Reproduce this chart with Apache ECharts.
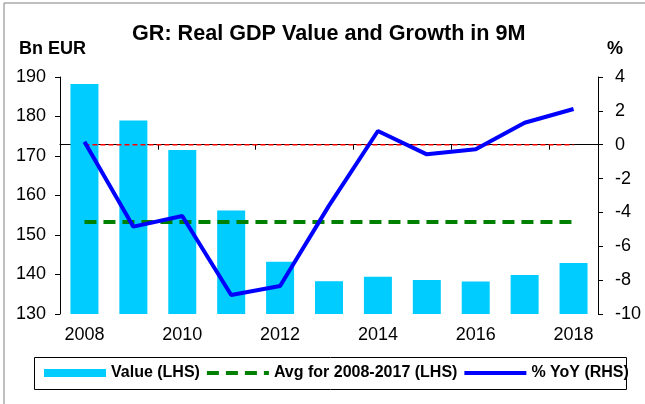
<!DOCTYPE html>
<html>
<head>
<meta charset="utf-8">
<script src="https://cdn.jsdelivr.net/npm/echarts@6/dist/echarts.min.js"></script>
<style>
  html, body { margin: 0; padding: 0; background: #fff; }
  #chart { width: 645px; height: 404px; }
</style>
</head>
<body>
<div id="chart"></div>
<script>
const years = ['2008', '2009', '2010', '2011', '2012', '2013', '2014', '2015', '2016', '2017', '2018']
const gdpValue = [188.2, 179.0, 171.5, 156.2, 143.2, 138.3, 139.4, 138.6, 138.2, 139.9, 142.9]
const yoyGrowth = [0.18, -4.84, -4.21, -8.88, -8.35, -3.6, 0.81, -0.57, -0.27, 1.3, 2.11]
const avgValue = [153.3, 153.3, 153.3, 153.3, 153.3, 153.3, 153.3, 153.3, 153.3, 153.3, 153.3]
const zeroLine = [0, 0, 0, 0, 0, 0, 0, 0, 0, 0, 0]

const font = "'Liberation Sans', Arial, sans-serif"

const chart = echarts.init(document.getElementById('chart'))

const option = {
  backgroundColor: '#ffffff',
  animation: false,
  textStyle: { fontFamily: font, color: '#000' },
  title: {
    text: 'GR: Real GDP Value and Growth in 9M',
    left: 132,
    top: 23,
    padding: 0,
    textStyle: { fontFamily: font, fontSize: 21.6, fontWeight: 'bold', color: '#000' }
  },
  graphic: [
    // outer frame (only top/left visible, like the original)
    { type: 'rect', shape: { x: 4, y: 3, width: 700, height: 500 }, style: { fill: 'none', stroke: '#808080', lineWidth: 1 }, silent: true },
    // legend box
    { type: 'rect', shape: { x: 34.5, y: 357.5, width: 592, height: 32 }, style: { fill: 'none', stroke: '#000', lineWidth: 1 }, silent: true },
    { type: 'text', left: 19, top: 40, style: { text: 'Bn EUR', font: 'bold 18px ' + font, fill: '#000' } },
    { type: 'text', left: 607, top: 40, style: { text: '%', font: 'bold 18px ' + font, fill: '#000' } }
  ],
  legend: {
    data: [
      { name: 'Value (LHS)', icon: 'rect' },
      { name: 'Avg for 2008-2017 (LHS)', itemStyle: { opacity: 0 }, lineStyle: { width: 4 } },
      { name: '% YoY (RHS)', itemStyle: { opacity: 0 }, lineStyle: { width: 4 } }
    ],
    left: 44,
    top: 365,
    padding: 0,
    itemWidth: 62,
    itemHeight: 8,
    itemGap: 5,
    textStyle: { fontFamily: font, fontSize: 16, fontWeight: 'bold', color: '#000' }
  },
  grid: {
    left: 60,
    right: 47,
    top: 77,
    bottom: 90
  },
  xAxis: {
    type: 'category',
    data: years,
    boundaryGap: true,
    axisLine: { lineStyle: { color: '#000', width: 1 } },
    axisTick: { show: true, length: 5, inside: false, lineStyle: { color: '#000' } },
    axisLabel: { color: '#000', fontSize: 18, fontFamily: font, interval: 1, margin: 12 },
    splitLine: { show: false }
  },
  yAxis: [
    {
      type: 'value',
      min: 130,
      max: 190,
      interval: 10,
      axisLine: { show: true, lineStyle: { color: '#000', width: 1 } },
      axisTick: { show: true, length: 5, lineStyle: { color: '#000' } },
      axisLabel: { color: '#000', fontSize: 18, fontFamily: font, margin: 14 },
      splitLine: { show: false }
    },
    {
      type: 'value',
      min: -10,
      max: 4,
      interval: 2,
      position: 'right',
      axisLine: { show: true, lineStyle: { color: '#000', width: 1 } },
      axisTick: { show: true, length: 5, lineStyle: { color: '#000' } },
      axisLabel: { color: '#000', fontSize: 18, fontFamily: font, margin: 17 },
      splitLine: { show: false }
    }
  ],
  series: [
    {
      name: 'Value (LHS)',
      type: 'bar',
      data: gdpValue,
      yAxisIndex: 0,
      barWidth: 28,
      itemStyle: { color: '#00CCFF' },
      z: 1
    },
    {
      name: 'zero',
      type: 'line',
      data: zeroLine,
      yAxisIndex: 1,
      symbol: 'none',
      lineStyle: { color: '#FF0000', width: 1.5, type: [5, 3] },
      z: 2
    },
    {
      name: 'Avg for 2008-2017 (LHS)',
      type: 'line',
      data: avgValue,
      yAxisIndex: 0,
      symbol: 'none',
      lineStyle: { color: '#008000', width: 4, type: [12, 7] },
      itemStyle: { color: '#008000' },
      z: 3
    },
    {
      name: '% YoY (RHS)',
      type: 'line',
      data: yoyGrowth,
      yAxisIndex: 1,
      symbol: 'none',
      lineStyle: { color: '#0000FF', width: 4 },
      itemStyle: { color: '#0000FF' },
      z: 4
    }
  ]
}

chart.setOption(option)
</script>
</body>
</html>
